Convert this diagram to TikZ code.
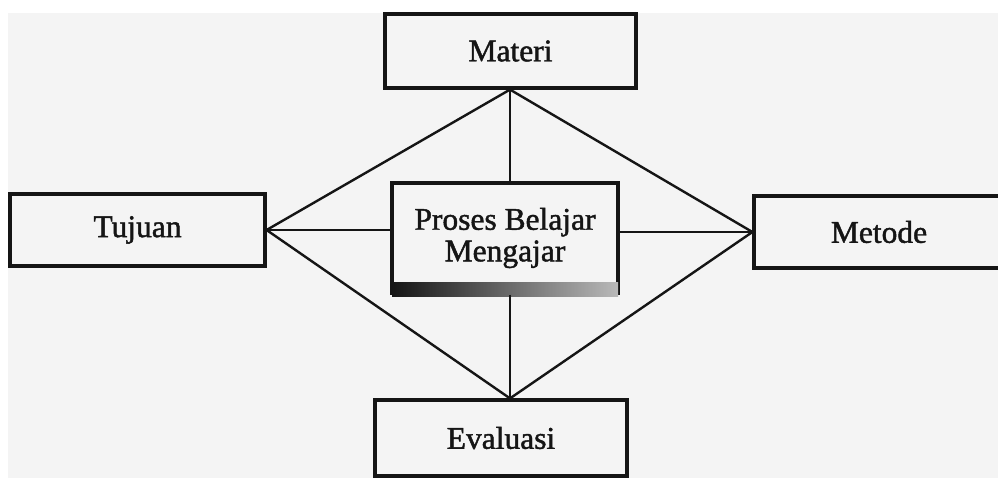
\documentclass[tikz,border=0pt]{standalone}
\usepackage{fontspec}
\setmainfont{Liberation Serif}
\newfontfamily\diagfont[FakeBold=1.4]{Liberation Serif}
\definecolor{paper}{HTML}{F4F4F4}
\definecolor{ink}{HTML}{151515}
\begin{document}
\begin{tikzpicture}[x=1pt,y=-1pt,
  box/.style={draw=ink,line width=3.2pt,fill=paper,inner sep=0pt,font=\diagfont\fontsize{31.5}{34}\selectfont,text=ink,align=center},
  conn/.style={draw=ink,line width=2.4pt}]
\useasboundingbox (0,0) rectangle (998,478);
\fill[white] (0,0) rectangle (998,478);
\fill[paper] (8,13) rectangle (998,478);
\begin{scope}
\clip (0,0) rectangle (998,478);
\node[box,minimum width=251pt,minimum height=74pt] (materi) at (510.5,51) {Materi};
\node[box,minimum width=255pt,minimum height=72pt] (tujuan) at (137.5,230) {Tujuan};
\node[box,minimum width=250pt,minimum height=72pt] (metode) at (879,232) {Metode};
\node[box,minimum width=226pt,minimum height=110pt] (pbm) at (505,238) {\raisebox{6pt}{\shortstack{Proses Belajar\\[1pt]Mengajar}}};
\node[box,minimum width=252pt,minimum height=76pt] (eval) at (501,438) {Evaluasi};
\shade[left color=ink,right color=gray!55] ([xshift=1.6pt,yshift=-1.6pt]pbm.south west) rectangle ([xshift=-1.6pt,yshift=12pt]pbm.south east);
\coordinate (mt) at (materi.south -| 510,0);
\coordinate (et) at (eval.north -| 510,0);
\draw[conn] (mt) -- (tujuan.east);
\draw[conn] (mt) -- (metode.west);
\draw[conn] (et) -- (tujuan.east);
\draw[conn] (et) -- (metode.west);
\draw[conn] (mt) -- (mt |- pbm.north);
\draw[conn] (et |- pbm.south) -- (et);
\draw[conn] (tujuan.east) -- (tujuan.east -| pbm.west);
\draw[conn] (pbm.east |- metode.west) -- (metode.west);
\end{scope}
\end{tikzpicture}
\end{document}
